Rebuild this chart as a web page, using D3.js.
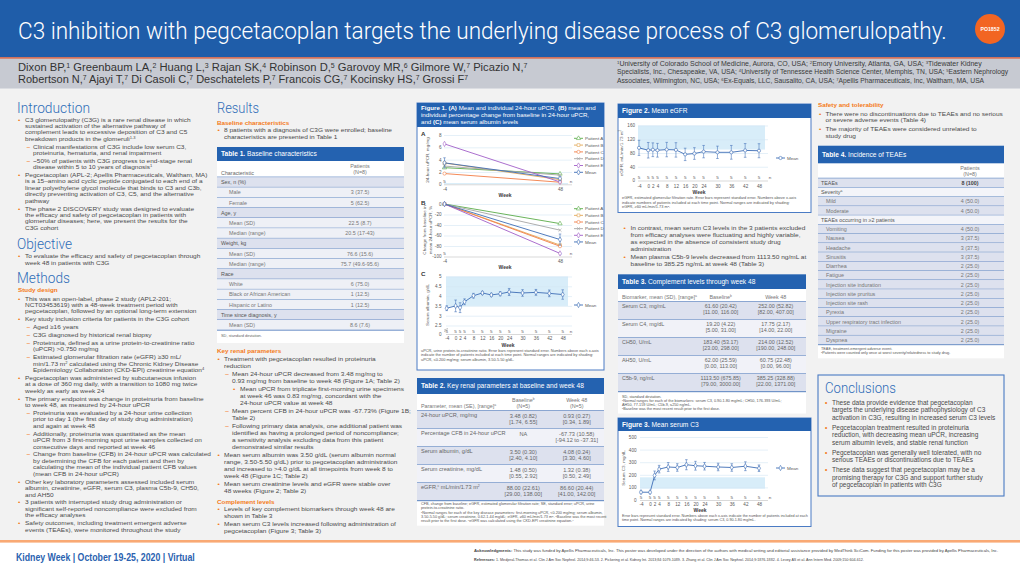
<!DOCTYPE html>
<html><head><meta charset="utf-8">
<script src="https://cdn.jsdelivr.net/npm/d3@7"></script>
<style>html,body{margin:0;padding:0;background:#fff;}svg{display:block;}</style>
</head><body>
<svg id="poster" width="1020" height="573" viewBox="0 0 1020 573"></svg>
<script>
// ================= DATA =================
const posterTitle = "C3 inhibition with pegcetacoplan targets the underlying disease process of C3 glomerulopathy.";
const posterId = "PO1852";
const authorLines = [
 "Dixon BP,{1} Greenbaum LA,{2} Huang L,{3} Rajan SK,{4} Robinson D,{5} Garovoy MR,{6} Gilmore W,{7} Picazio N,{7}",
 "Robertson N,{7} Ajayi T,{7} Di Casoli C,{7} Deschatelets P,{7} Francois CG,{7} Kocinsky HS,{7} Grossi F{7}"
];
const affiliationLines = [
 "{1}University of Colorado School of Medicine, Aurora, CO, USA; {2}Emory University, Atlanta, GA, USA; {3}Tidewater Kidney",
 "Specialists, Inc., Chesapeake, VA, USA; {4}University of Tennessee Health Science Center, Memphis, TN, USA; {5}Eastern Nephrology",
 "Associates, Wilmington, NC, USA; {6}Ex-Equals, LLC, Sausalito, CA, USA; {7}Apellis Pharmaceuticals, Inc, Waltham, MA, USA"
];
const introItems = [
 {l:0,t:["C3 glomerulopathy (C3G) is a rare renal disease in which","sustained activation of the alternative pathway of","complement leads to excessive deposition of C3 and C5","breakdown products in the glomeruli{1-3}"]},
 {l:1,t:["Clinical manifestations of C3G include low serum C3,","proteinuria, hematuria, and renal impairment"]},
 {l:1,t:["~50% of patients with C3G progress to end-stage renal","disease within 5 to 10 years of diagnosis{1}"]},
 {l:0,t:["Pegcetacoplan (APL-2; Apellis Pharmaceuticals, Waltham, MA)","is a 15–amino acid cyclic peptide conjugated to each end of a","linear polyethylene glycol molecule that binds to C3 and C3b,","directly preventing activation of C3, C5, and the alternative","pathway"]},
 {l:0,t:["The phase 2 DISCOVERY study was designed to evaluate","the efficacy and safety of pegcetacoplan in patients with","glomerular diseases; here, we present the results for the","C3G cohort"]}
];
const objectiveItems = [{l:0,t:["To evaluate the efficacy and safety of pegcetacoplan through","week 48 in patients with C3G"]}];
const methodsItems = [
 {l:0,t:["This was an open-label, phase 2 study (APL2-201;","NCT03453619) with a 48-week treatment period with","pegcetacoplan, followed by an optional long-term extension"]},
 {l:0,t:["Key study inclusion criteria for patients in the C3G cohort"]},
 {l:1,t:["Aged ≥16 years"]},
 {l:1,t:["C3G diagnosed by historical renal biopsy"]},
 {l:1,t:["Proteinuria, defined as a urine protein-to-creatinine ratio","(uPCR) >0.750 mg/mg"]},
 {l:1,t:["Estimated glomerular filtration rate (eGFR) ≥30 mL/","min/1.73 m{2} calculated using the Chronic Kidney Disease","Epidemiology Collaboration (CKD-EPI) creatinine equation{4}"]},
 {l:0,t:["Pegcetacoplan was administered by subcutaneous infusion","at a dose of 360 mg daily, with a transition to 1080 mg twice","weekly as early as week 24"]},
 {l:0,t:["The primary endpoint was change in proteinuria from baseline","to week 48, as measured by 24-hour uPCR"]},
 {l:1,t:["Proteinuria was evaluated by a 24-hour urine collection","prior to day 1 (the first day of study drug administration)","and again at week 48"]},
 {l:1,t:["Additionally, proteinuria was quantitated as the mean","uPCR from 3 first-morning spot urine samples collected on","consecutive days and reported at week 46"]},
 {l:1,t:["Change from baseline (CFB) in 24-hour uPCR was calculated","by determining the CFB for each patient and then by","calculating the mean of the individual patient CFB values","(mean CFB in 24-hour uPCR)"]},
 {l:0,t:["Other key laboratory parameters assessed included serum","albumin, creatinine, eGFR, serum C3, plasma C5b-9, CH50,","and AH50"]},
 {l:0,t:["3 patients with interrupted study drug administration or","significant self-reported noncompliance were excluded from","the efficacy analyses"]},
 {l:0,t:["Safety outcomes, including treatment emergent adverse","events (TEAEs), were monitored throughout the study"]}
];
const baselineItems = [{l:0,t:["8 patients with a diagnosis of C3G were enrolled; baseline","characteristics are presented in Table 1"]}];
const renalItems = [
 {l:0,t:["Treatment with pegcetacoplan resulted in proteinuria","reduction"]},
 {l:1,t:["Mean 24-hour uPCR decreased from 3.48 mg/mg to","0.93 mg/mg from baseline to week 48 (Figure 1A; Table 2)"]},
 {l:2,t:["Mean uPCR from triplicate first-morning urine specimens","at week 46 was 0.83 mg/mg, concordant with the","24-hour uPCR value at week 48"]},
 {l:1,t:["Mean percent CFB in 24-hour uPCR was -67.73% (Figure 1B;","Table 2)"]},
 {l:1,t:["Following primary data analysis, one additional patient was","identified as having a prolonged period of noncompliance;","a sensitivity analysis excluding data from this patient","demonstrated similar results"]},
 {l:0,t:["Mean serum albumin was 3.50 g/dL (serum albumin normal","range, 3.50-5.50 g/dL) prior to pegcetacoplan administration","and increased to >4.0 g/dL at all timepoints from week 8 to","week 48 (Figure 1C; Table 2)"]},
 {l:0,t:["Mean serum creatinine levels and eGFR were stable over","48 weeks (Figure 2; Table 2)"]}
];
const complementItems = [
 {l:0,t:["Levels of key complement biomarkers through week 48 are","shown in Table 3"]},
 {l:0,t:["Mean serum C3 levels increased following administration of","pegcetacoplan (Figure 3; Table 3)"]}
];
const col4Items = [
 {l:0,t:["In contrast, mean serum C3 levels in the 3 patients excluded","from efficacy analyses were fluctuating and highly variable,","as expected in the absence of consistent study drug","administration"]},
 {l:0,t:["Mean plasma C5b-9 levels decreased from 1113.50 ng/mL at","baseline to 385.25 ng/mL at week 48 (Table 3)"]}
];
const safetyItems = [
 {l:0,t:["There were no discontinuations due to TEAEs and no serious","or severe adverse events (Table 4)"]},
 {l:0,t:["The majority of TEAEs were considered unrelated to","study drug"]}
];
const conclusionItems = [
 {l:0,t:["These data provide evidence that pegcetacoplan","targets the underlying disease pathophysiology of C3","activation in C3G, resulting in increased serum C3 levels"]},
 {l:0,t:["Pegcetacoplan treatment resulted in proteinuria","reduction, with decreasing mean uPCR, increasing","serum albumin levels, and stable renal function"]},
 {l:0,t:["Pegcetacoplan was generally well tolerated, with no","serious TEAEs or discontinuations due to TEAEs"]},
 {l:0,t:["These data suggest that pegcetacoplan may be a","promising therapy for C3G and support further study","of pegcetacoplan in patients with C3G"]}
];

// Table 1
const table1Labels = ["Sex, n (%)","Male","Female","Age, y","Mean (SD)","Median (range)","Weight, kg","Mean (SD)","Median (range)","Race","White","Black or African American","Hispanic or Latino","Time since diagnosis, y","Mean (SD)"];
const table1Values = ["","3 (37.5)","5 (62.5)","","22.5 (8.7)","20.5 (17-43)","","76.6 (15.6)","75.7 (49.6-95.6)","","6 (75.0)","1 (12.5)","1 (12.5)","","8.6 (7.6)"];
// Table 2
const table2Params = ["24-hour uPCR, mg/mg","Percentage CFB in 24-hour uPCR","Serum albumin, g/dL","Serum creatinine, mg/dL","eGFR,{c} mL/min/1.73 m{2}"];
const table2Baseline = ["3.48 (0.82)","NA","3.50 (0.30)","1.48 (0.50)","88.00 (22.61)"];
const table2BaselineRange = ["[1.74, 6.55]","","[2.40, 4.10]","[0.55, 2.92]","[29.00, 138.00]"];
const table2Week48 = ["0.93 (0.27)","-67.73 (10.58)","4.08 (0.24)","1.32 (0.38)","86.60 (20.44)"];
const table2Week48Range = ["[0.34, 1.89]","[-94.12 to -37.31]","[3.30, 4.60]","[0.50, 2.49]","[41.00, 142.00]"];
const table2Notes = [
 "CFB, change from baseline; eGFR, estimated glomerular filtration rate; SE, standard error; uPCR, urine",
 "protein-to-creatinine ratio.",
 "{a}Normal ranges for each of the key disease parameters: first-morning uPCR, <0.200 mg/mg; serum albumin,",
 "3.50-5.50 g/dL; serum creatinine, 0.62-1.44 mg/dL; eGFR, ≥60 mL/min/1.73 m{2}. {b}Baseline was the most recent",
 "result prior to the first dose. {c}eGFR was calculated using the CKD-EPI creatinine equation.{4}"
];
// Table 3
const table3Markers = ["Serum C3, mg/mL","Serum C4, mg/dL","CH50, U/mL","AH50, U/mL","C5b-9, ng/mL"];
const table3Baseline = ["61.60 (20.42)","19.20 (4.22)","183.40 (53.17)","62.00 (25.59)","1113.50 (675.85)"];
const table3BaselineRange = ["[11.00, 116.00]","[5.00, 31.00]","[23.00, 298.00]","[0.00, 113.00]","[79.00, 3000.00]"];
const table3Week48 = ["252.00 (52.82)","17.75 (2.17)","214.00 (12.52)","60.75 (22.48)","385.25 (328.88)"];
const table3Week48Range = ["[82.00, 407.00]","[14.00, 22.00]","[190.00, 248.00]","[0.00, 96.00]","[22.00, 1371.00]"];
const table3Notes = [
 "SD, standard deviation.",
 "{a}Normal ranges for each of the biomarkers: serum C3, 0.90-1.80 mg/mL; CH50, 176-393 U/mL;",
 "AH50, 77-159 U/mL; C5b-9, ≤250 ng/mL.",
 "{b}Baseline was the most recent result prior to the first dose."
];
// Table 4
const table4Labels = ["TEAEs","Severity{a}","Mild","Moderate","TEAEs occurring in ≥2 patients","Vomiting","Nausea","Headache","Sinusitis","Diarrhea","Fatigue","Injection site induration","Injection site pruritus","Injection site rash","Pyrexia","Upper respiratory tract infection","Migraine","Dyspnea"];
const table4Values = ["8 (100)","","4 (50.0)","4 (50.0)","","4 (50.0)","3 (37.5)","3 (37.5)","3 (37.5)","2 (25.0)","2 (25.0)","2 (25.0)","2 (25.0)","2 (25.0)","2 (25.0)","2 (25.0)","2 (25.0)","2 (25.0)"];
const table4Level = [0,0,1,1,0,1,1,1,1,1,1,1,1,1,1,1,1,1];

// Figure 1 A/B
const fig1Weeks = [-4, 48];
const fig1Names = ["Patient A","Patient B","Patient C","Patient D","Patient E","Mean"];
const fig1AValues = [[2.70,1.69],[3.45,0.75],[1.74,0.34],[2.96,1.485],[6.55,0.385],[3.48,0.93]];
const fig1ASE = [0.82, 0.27];
const fig1BValues = [[0,-37.31],[0,-78.26],[0,-80.46],[0,-49.83],[0,-94.12],[0,-67.73]];
const fig1BSE = [0, 10.58];
const fig1N = [5, 5];
// Visits for Figures 1C, 2, 3
const visitWeeks = [-4,0,2,4,8,12,16,20,24,30,36,42,48];
const visitN = [5,5,5,5,5,5,5,5,5,5,5,5,5];
const albuminMean = [3.38,3.50,3.41,3.71,4.02,4.16,4.06,4.12,4.21,4.16,4.19,4.14,4.08];
const albuminSE = [0.12,0.30,0.25,0.15,0.12,0.08,0.08,0.10,0.18,0.17,0.15,0.17,0.24];
const egfrMean = [95.0,88.0,89.5,88.0,90.0,89.0,76.0,78.5,84.0,82.0,82.0,87.5,86.6];
const egfrSE = [22,22.6,20,20,21,21,18,17,18,18,20,20,20.4];
const c3Mean = [62,61.6,195,245,262,258,280,272,268,262,258,268,252];
const c3SE = [10,9,35,30,35,30,40,35,30,30,30,35,26];
// tick values
const fig1AYTicks = [0,2,4,6,8];
const fig1BYTicks = [-100,-80,-60,-40,-20,0];
const fig1CYTicks = [0,2.5,3,3.5,4,4.5,5];
const fig2YTicks = [0,40,80,120,160];
const fig3YTicks = [0,100,200,300,400,500];

// ================= DRAWING =================
const svg = d3.select('#poster');
const FONT = "'Liberation Sans',Arial,'DejaVu Sans',sans-serif";
const HFONT = "Roboto,'Liberation Sans',sans-serif";
const C = {blue:'#1f5da9', tblue:'#2462b0', head:'#2f6db8', orange:'#f47b20', orange2:'#f58a45',
  text:'#4a4a4a', axis:'#595959', shadeA:'#dde1ee', shadeB:'#eef0f6', rule:'#2f63b0',
  grid:'#d4e6f4', band:'#d8edf9', frame:'#4a7bc4'};

const probe = svg.append('text').attr('font-size',6.3).style('font-family',FONT)
  .text('The primary endpoint was change in proteinuria from baseline');
const SX = Math.min(1.1, 179 / probe.node().getComputedTextLength());
probe.remove();

function rich(t, s){
  s.split(/(\{[^}]*\}|\*[^*]*\*)/).forEach(p=>{
    if(!p) return;
    if(p[0]==='{') t.append('tspan').attr('baseline-shift','super').attr('font-size','62%').text(p.slice(1,-1));
    else if(p[0]==='*') t.append('tspan').attr('font-weight','bold').text(p.slice(1,-1));
    else t.append('tspan').text(p);
  });
  return t;
}
function txt(parent, x, y, s, o={}){
  const t = parent.append('text').attr('font-size', o.size||6.3).attr('fill', o.fill||C.text)
    .style('font-family', o.family||FONT);
  if(o.weight) t.attr('font-weight', o.weight);
  if(o.anchor) t.attr('text-anchor', o.anchor);
  rich(t, s);
  let sx = o.sx ?? SX;
  if(o.len) sx = o.len / t.node().getComputedTextLength();
  t.attr('transform', `translate(${x},${y})${o.rot?` rotate(${o.rot})`:''} scale(${sx},1)`);
  return t;
}
function bullets(items, cfg){
  let y = cfg.y;
  const size = cfg.size||6.1, sx = SX*6.3/size*(cfg.w||1);
  items.forEach((it,k)=>{
    if(k>0) y += cfg.lh + cfg.gap;
    const [mx,tx] = cfg.lv[it.l];
    txt(svg, mx, y, it.l===1?'–':'•', {size, sx:it.l===1?1.15:sx, fill: it.l===1?C.orange2:C.orange, weight:'bold'});
    it.t.forEach((line,i)=>{ if(i>0) y += cfg.lh; txt(svg, tx, y, line, {size, sx}); });
  });
  return y;
}
const heading = (x,y,s,len)=> txt(svg,x,y,s,{size:14,fill:C.head,family:HFONT,weight:300,len});
const subhead = (x,y,s)=> txt(svg,x,y,s,{size:6.1,fill:C.orange,weight:'bold'});

// ---- backgrounds / header ----
svg.append('rect').attr('width',1020).attr('height',573).attr('fill','#fff');
svg.append('rect').attr('y',88.6).attr('width',1020).attr('height',451.4).attr('fill','#f2f2f2');
svg.append('rect').attr('width',1020).attr('height',57.2).attr('fill',C.blue);
svg.append('rect').attr('y',57.2).attr('width',1020).attr('height',1.6).attr('fill','#d0573b');
svg.append('rect').attr('y',58.8).attr('width',1020).attr('height',29.8).attr('fill','#c7cad2');
svg.append('rect').attr('y',540).attr('width',1020).attr('height',2.6).attr('fill','#f9a974');
txt(svg,18,38.5,posterTitle,{size:24,fill:'#fff',len:929,family:HFONT,weight:300});
svg.append('circle').attr('cx',990).attr('cy',29).attr('r',15).attr('fill','#f26522');
txt(svg,990,30.8,posterId,{size:5.2,fill:'#fff',weight:'bold',anchor:'middle',sx:1});
authorLines.forEach((s,i)=> txt(svg,18,[70.5,83.2][i],s,{size:11,fill:'#333',len:[510,450][i]}));
affiliationLines.forEach((s,i)=> txt(svg,617,[65.5,74,82.5][i],s,{size:6.4,fill:'#3a3a3a',len:[365,391,367][i]}));

// ---- column 1 ----
heading(17,112.6,'Introduction',73);
bullets(introItems,{y:121.5,lh:6.45,gap:1.3,size:5.75,lv:[[18,25],[26.5,33],[33,40]]});
heading(17,249.4,'Objective',55);
bullets(objectiveItems,{y:258.2,lh:6.45,gap:1,size:5.75,lv:[[18,25]]});
heading(17,283,'Methods',53);
subhead(18,292.2,'Study design');
bullets(methodsItems,{y:300.5,lh:6.45,gap:1.4,size:5.75,lv:[[18,25],[26.5,33],[33,40]]});

// ---- column 2 ----
heading(217,112.6,'Results',42);
subhead(217,124.5,'Baseline characteristics');
bullets(baselineItems,{y:131.9,lh:7,gap:1,lv:[[217.5,224]]});

function tableFrame(x, top, w, headH, bottom, title){
  svg.append('rect').attr('x',x).attr('y',top).attr('width',w).attr('height',bottom-top).attr('fill','#fff');
  svg.append('rect').attr('x',x).attr('y',top).attr('width',w).attr('height',headH).attr('fill',C.tblue);
  txt(svg, x+4, top+headH/2+2.3, title, {size:6.4, fill:'#fff'});
}
function hrule(x1,x2,y,w){ svg.append('line').attr('x1',x1).attr('x2',x2).attr('y1',y).attr('y2',y).attr('stroke',C.rule).attr('stroke-width',w||0.7); }

// Table 1
tableFrame(217,147,187,14,343,'*Table 1.* Baseline characteristics');
txt(svg,360,167.6,'Patients',{size:5.2,fill:'#777',anchor:'middle'});
txt(svg,360,174,'(N=8)',{size:5.2,fill:'#777',anchor:'middle'});
txt(svg,221,174.6,'Characteristic',{size:5.2,fill:'#666'});
hrule(217,404,177.2,0.9);
const t1y = d3.scaleBand().domain(d3.range(table1Labels.length)).range([177.2,330.2]);
table1Labels.forEach((lab,i)=>{
  const cat = table1Values[i]==='', y0=t1y(i), h=t1y.bandwidth();
  svg.append('rect').attr('x',217).attr('y',y0).attr('width',187).attr('height',h).attr('fill',cat?C.shadeA:C.shadeB);
  hrule(217,404,y0+h,0.7);
  txt(svg, cat?221:229, y0+h/2+1.9, lab, {size:5.2, fill:cat?'#555':'#777'});
  if(!cat) txt(svg, 360, y0+h/2+1.9, table1Values[i], {size:5.2, fill:'#777', anchor:'middle'});
});
txt(svg,221,337,'SD, standard deviation.',{size:3.8,fill:'#666'});

subhead(217,353.2,'Key renal parameters');
bullets(renalItems,{y:361.2,lh:6.9,gap:1.2,lv:[[217.5,224],[225,232],[233,240]]});
subhead(217,503.5,'Complement levels');
bullets(complementItems,{y:510.7,lh:6.9,gap:1.2,lv:[[217.5,224]]});

// ---- chart helper ----
function chart(cfg){
  const g = svg.append('g');
  const x = d3.scaleLinear().domain([-4,48]).range(cfg.xr);
  const y = d3.scaleLinear().domain(cfg.yd).range(cfg.yr);
  const [p0,p1] = cfg.px;
  const yMin = cfg.yd[0], yMax = cfg.yd[cfg.yd.length-1];
  if(cfg.band){
    const t = y(Math.min(cfg.band[1],yMax)), b = y(Math.max(cfg.band[0],yMin));
    g.append('rect').attr('x',p0).attr('y',t).attr('width',cfg.bandW).attr('height',b-t).attr('fill',C.band);
  }
  g.append('g').attr('transform',`translate(${p0},0)`)
    .call(d3.axisRight(y).tickValues(cfg.yTicks).tickSize(p1-p0).tickFormat(''))
    .call(a=>{a.select('.domain').remove(); a.selectAll('.tick line').attr('stroke',d=>d===yMin?'#bfbfbf':C.grid).attr('stroke-width',0.6);});
  g.append('g').attr('transform',`translate(${cfg.yLabX},0)`)
    .call(d3.axisLeft(y).tickValues(cfg.yTicks).tickSize(0).tickPadding(0).tickFormat(d=>String(d)))
    .call(a=>{a.select('.domain').remove(); a.selectAll('text').attr('font-size',4.6).attr('fill',C.axis).style('font-family',FONT);});
  g.append('g').attr('transform',`translate(0,${cfg.xLabB-3.27})`)
    .call(d3.axisBottom(x).tickValues(cfg.xTicks).tickSize(0).tickPadding(0).tickFormat(d=>String(d)))
    .call(a=>{a.select('.domain').remove(); a.selectAll('text').attr('font-size',4.6).attr('fill',C.axis).style('font-family',FONT);});
  cfg.xTicks.forEach((w,i)=> txt(g, x(w), cfg.nY, String(cfg.n[i]), {size:4.4, fill:C.axis, anchor:'middle'}));
  txt(g, cfg.nX, cfg.nY, 'n', {size:4.4, fill:C.axis, anchor:'middle'});
  txt(g, cfg.weekX, cfg.weekB, 'Week', {size:4.8, fill:'#3a3a3a', weight:'bold', anchor:'middle'});
  cfg.yTitle.lines.forEach((s,i)=> txt(g, cfg.yTitle.x[i], cfg.yTitle.cy, s, {size:4.4, fill:C.axis, anchor:'middle', rot:-90}));
  if(cfg.brk){
    const ym = (y(cfg.yd[0])+y(cfg.yd[1]))/2;
    g.append('path').attr('d',`M${p0-2},${ym+0.3}l4,-1.6M${p0-2},${ym+1.8}l4,-1.6`).attr('stroke','#8c8c8c').attr('stroke-width',0.5).attr('fill','none');
  }
  const line = d3.line().x(d=>x(d[0])).y(d=>y(d[1]));
  const sym = s=> d3.symbol().type(s.sym).size(s.size||8)();
  cfg.series.forEach(s=>{
    const pts = cfg.xTicks.map((w,i)=>[w, s.v[i]]);
    if(s.se) pts.forEach((p,i)=>{
      if(!s.se[i]) return;
      const xx=x(p[0]), y1=y(p[1]-s.se[i]), y2=y(p[1]+s.se[i]);
      g.append('path').attr('d',`M${xx},${y1}V${y2}M${xx-1.3},${y1}h2.6M${xx-1.3},${y2}h2.6`)
        .attr('stroke',s.color).attr('stroke-width',0.55).attr('fill','none');
    });
    g.append('path').attr('d',line(pts)).attr('fill','none').attr('stroke',s.color).attr('stroke-width',0.9);
    pts.forEach(p=> g.append('path').attr('transform',`translate(${x(p[0])},${y(p[1])})`).attr('d',sym(s))
      .attr('fill',s.sym===d3.symbolX?'none':'#fff').attr('stroke',s.color).attr('stroke-width',0.6));
  });
  cfg.series.forEach((s,i)=>{
    const lx=cfg.leg.x, ly=cfg.leg.y+i*(cfg.leg.dy||0);
    g.append('line').attr('x1',lx).attr('x2',lx+9).attr('y1',ly).attr('y2',ly).attr('stroke',s.color).attr('stroke-width',0.9);
    g.append('path').attr('transform',`translate(${lx+4.5},${ly})`).attr('d',sym(s))
      .attr('fill',s.sym===d3.symbolX?'none':'#fff').attr('stroke',s.color).attr('stroke-width',0.6);
    txt(g, lx+11, ly+1.6, s.name, {size:4.4, fill:C.axis});
  });
  return g;
}
function figFrame(x, top, w, bottom, headH){
  svg.append('rect').attr('x',x).attr('y',top).attr('width',w).attr('height',bottom-top).attr('fill','#fff').attr('stroke',C.frame).attr('stroke-width',1);
  svg.append('rect').attr('x',x).attr('y',top).attr('width',w).attr('height',headH).attr('fill',C.tblue);
}

// ---- Figure 1 ----
const fig1Colors = ['#5aac48','#e3a857','#f27d45','#a5a5a5','#a15fc8','#3d6db5'];
const fig1Syms = [d3.symbolTriangle,d3.symbolSquare,d3.symbolCircle,d3.symbolX,d3.symbolDiamond,d3.symbolDiamond];
figFrame(417,103,187,370,24);
["*Figure 1.* *(A)* Mean and individual 24-hour uPCR, *(B)* mean and",
 "individual percentage change from baseline in 24-hour uPCR,",
 "and *(C)* mean serum albumin levels"].forEach((s,i)=> txt(svg,421,110.4+i*6.7,s,{size:5.95,fill:'#fff'}));
['A','B','C'].forEach((s,i)=> txt(svg,421,[135.5,205,276][i],s,{size:6,weight:'bold',fill:'#333'}));
chart({xr:[444.5,560],px:[444,572],yd:[0,8],yr:[184.3,135],yTicks:fig1AYTicks,yLabX:441.5,
  xTicks:fig1Weeks,xLabB:191,n:fig1N,nY:183,nX:571,weekX:505,weekB:196.6,band:[0,0.2],bandW:124,
  yTitle:{x:[429],cy:160,lines:['24-hour uPCR, mg/mg']},
  series:fig1Names.map((nm,i)=>({name:nm,color:fig1Colors[i],sym:fig1Syms[i],v:fig1AValues[i],se:i===5?fig1ASE:null})),
  leg:{x:574,y:138.3,dy:6.8}});
chart({xr:[444.5,560],px:[444,572],yd:[-100,0],yr:[256.5,204],yTicks:fig1BYTicks,yLabX:441.5,
  xTicks:fig1Weeks,xLabB:262.7,n:fig1N,nY:255.3,nX:571,weekX:505,weekB:268.6,
  yTitle:{x:[426,431.6],cy:230,lines:['Change from baseline in','mean 24-hour uPCR, %']},
  series:fig1Names.map((nm,i)=>({name:nm,color:fig1Colors[i],sym:fig1Syms[i],v:fig1BValues[i],se:i===5?fig1BSE:null})),
  leg:{x:574,y:208.7,dy:6.65}});
chart({xr:[446.7,562.7],px:[446,572],yd:[0,2.5,5],yr:[334,325.5,276.5],yTicks:fig1CYTicks,yLabX:441.5,
  xTicks:visitWeeks,xLabB:339.8,n:visitN,nY:332.6,nX:571,weekX:508,weekB:346.5,band:[3.5,5.5],bandW:122,brk:true,
  yTitle:{x:[429],cy:305,lines:['Serum albumin, g/dL']},
  series:[{name:'Mean',color:'#3d6db5',sym:d3.symbolDiamond,v:albuminMean,se:albuminSE}],
  leg:{x:574,y:305}});
["uPCR, urine protein-to-creatinine ratio. Error bars represent standard error. Numbers above each x-axis",
 "indicate the number of patients included at each time point. Normal ranges are indicated by shading:",
 "uPCR, ≤0.200 mg/mg; serum albumin, 3.50-5.50 g/dL."].forEach((s,i)=> txt(svg,421,351.5+i*4.7,s,{size:3.75,fill:'#555'}));

// ---- Table 2 ----
tableFrame(417,378,187,16,525.7,'*Table 2.* Key renal parameters at baseline and week 48');
txt(svg,421,407.8,'Parameter, mean (SE), [range]{a}',{size:5.2,fill:'#777'});
txt(svg,523.3,401.6,'Baseline{b}',{size:5.2,fill:'#777',anchor:'middle'});
txt(svg,523.3,407.6,'(N=5)',{size:5.2,fill:'#777',anchor:'middle'});
txt(svg,576.7,401.6,'Week 48',{size:5.2,fill:'#777',anchor:'middle'});
txt(svg,576.7,407.6,'(N=5)',{size:5.2,fill:'#777',anchor:'middle'});
hrule(417,604,410.7,0.9);
const t2y = d3.scaleBand().domain(d3.range(table2Params.length)).range([410.7,500.7]);
table2Params.forEach((p,i)=>{
  const y0=t2y(i), h=t2y.bandwidth();
  svg.append('rect').attr('x',417).attr('y',y0).attr('width',187).attr('height',h).attr('fill',i%2?'#f1f2f8':C.shadeA);
  hrule(417,604,y0+h,0.8);
  txt(svg,421,y0+6.6,p,{size:5.4,fill:'#666'});
  txt(svg,523.3,y0+7,table2Baseline[i],{size:5.4,fill:'#666',anchor:'middle'});
  if(table2BaselineRange[i]) txt(svg,523.3,y0+13.4,table2BaselineRange[i],{size:5.4,fill:'#666',anchor:'middle'});
  txt(svg,576.7,y0+7,table2Week48[i],{size:5.4,fill:'#666',anchor:'middle'});
  if(table2Week48Range[i]) txt(svg,576.7,y0+13.4,table2Week48Range[i],{size:5.4,fill:'#666',anchor:'middle'});
});
table2Notes.forEach((s,i)=> txt(svg,421,505.4+i*4.05,s,{size:3.5,fill:'#555',sx:SX*1.05}));

// ---- Figure 2 ----
figFrame(618,104,193,212.5,14);
txt(svg,622,113.4,'*Figure 2.* Mean eGFR',{size:6.4,fill:'#fff'});
chart({xr:[639,759],px:[638,768],yd:[0,160],yr:[180.5,125.5],yTicks:fig2YTicks,yLabX:635,
  xTicks:visitWeeks,xLabB:187.6,n:visitN,nY:179.3,nX:770,weekX:699,weekB:193.6,band:[90,160],bandW:127,
  yTitle:{x:[623],cy:153,lines:['eGFR, mL/min/1.73 m{2}']},
  series:[{name:'Mean',color:'#3d6db5',sym:d3.symbolCircle,v:egfrMean,se:egfrSE}],
  leg:{x:776,y:158}});
["eGFR, estimated glomerular filtration rate. Error bars represent standard error. Numbers above x-axis",
 "indicate numbers of patients included at each time point. Normal ranges are indicated by shading:",
 "eGFR, ≥60 mL/min/1.73 m{2}."].forEach((s,i)=> txt(svg,622,199.4+i*4.5,s,{size:3.75,fill:'#555'}));
bullets(col4Items,{y:230.2,lh:7,gap:1,lv:[[623.5,630.5]]});

// ---- Table 3 ----
tableFrame(618,274.3,188,14.7,413.5,'*Table 3.* Complement levels through week 48');
txt(svg,622,299.3,'Biomarker, mean (SD), [range]{a}',{size:5.2,fill:'#777'});
txt(svg,720.7,299.3,'Baseline{b}',{size:5.2,fill:'#777',anchor:'middle'});
txt(svg,775.7,299.3,'Week 48',{size:5.2,fill:'#777',anchor:'middle'});
hrule(618,806,301.7,0.9);
const t3y = d3.scaleBand().domain(d3.range(table3Markers.length)).range([301.7,391.7]);
table3Markers.forEach((p,i)=>{
  const y0=t3y(i), h=t3y.bandwidth();
  svg.append('rect').attr('x',618).attr('y',y0).attr('width',188).attr('height',h).attr('fill',i%2?'#f1f2f8':C.shadeA);
  hrule(618,806,y0+h,0.8);
  txt(svg,622,y0+5.8,p,{size:5.2,fill:'#666'});
  txt(svg,720.7,y0+5.8,table3Baseline[i],{size:5.2,fill:'#666',anchor:'middle'});
  txt(svg,720.7,y0+11.8,table3BaselineRange[i],{size:5.2,fill:'#666',anchor:'middle'});
  txt(svg,775.7,y0+5.8,table3Week48[i],{size:5.2,fill:'#666',anchor:'middle'});
  txt(svg,775.7,y0+11.8,table3Week48Range[i],{size:5.2,fill:'#666',anchor:'middle'});
});
table3Notes.forEach((s,i)=> txt(svg,622,397.5+i*4.05,s,{size:3.5,fill:'#555',sx:SX*1.05}));

// ---- Figure 3 ----
figFrame(618,418,193,526.5,13);
txt(svg,622,427,'*Figure 3.* Mean serum C3',{size:6.4,fill:'#fff'});
chart({xr:[641,759],px:[640,768],yd:[0,500],yr:[500,437],yTicks:fig3YTicks,yLabX:636.5,
  xTicks:visitWeeks,xLabB:506.3,n:visitN,nY:498.8,nX:770,weekX:700,weekB:511.6,band:[90,180],bandW:125,
  yTitle:{x:[625],cy:468,lines:['Serum C3, mg/dL']},
  series:[{name:'Mean',color:'#3d6db5',sym:d3.symbolDiamond,v:c3Mean,se:c3SE}],
  leg:{x:776,y:468}});
["Error bars represent standard error. Numbers above each x-axis indicate the number of patients included at each",
 "time point. Normal ranges are indicated by shading: serum C3, 0.90-1.80 mg/mL."].forEach((s,i)=> txt(svg,622,516.8+i*4.5,s,{size:3.6,fill:'#555'}));

// ---- column 5 ----
subhead(818,107.2,'Safety and tolerability');
bullets(safetyItems,{y:115.5,lh:6.7,gap:2,size:6.0,lv:[[819,825.5]]});
tableFrame(818,145.7,186,17.6,358.3,'*Table 4.* Incidence of TEAEs');
txt(svg,970,169.5,'Patients',{size:5.2,fill:'#777',anchor:'middle'});
txt(svg,970,176,'(N=8)',{size:5.2,fill:'#777',anchor:'middle'});
hrule(818,1004,178.3,0.9);
const t4y = d3.scaleBand().domain(d3.range(table4Labels.length)).range([178.4,344.7]);
table4Labels.forEach((lab,i)=>{
  const y0=t4y(i), h=t4y.bandwidth(), cat = table4Values[i]==='';
  svg.append('rect').attr('x',818).attr('y',y0).attr('width',186).attr('height',h).attr('fill',cat?'#f3f4f9':C.shadeA);
  hrule(818,1004,y0+h,0.7);
  txt(svg, table4Level[i]?826:821, y0+h/2+1.9, lab, {size:5.2, fill:table4Level[i]?'#777':'#555'});
  if(!cat) txt(svg,970,y0+h/2+1.9,table4Values[i],{size:5.2,fill:i===0?'#444':'#777',anchor:'middle',weight:i===0?'bold':null});
});
["TEAE, treatment-emergent adverse event.",
 "{a}Patients were counted only once at worst severity/relatedness to study drug."].forEach((s,i)=> txt(svg,821,349.6+i*4.05,s,{size:3.5,fill:'#555',sx:SX*1.05}));

// Conclusions
svg.append('rect').attr('x',818).attr('y',375).attr('width',186).attr('height',121).attr('fill','none').attr('stroke',C.frame).attr('stroke-width',1.1);
heading(825,393.2,'Conclusions',71);
bullets(conclusionItems,{y:404.9,lh:7.5,gap:2.4,size:6.5,lv:[[825,832]]});

// ---- footer ----
txt(svg,16,561,'Kidney Week | October 19-25, 2020 | Virtual',{size:10.5,fill:'#2a62b0',weight:'bold',len:179});
txt(svg,474,552,'*Acknowledgments:* This study was funded by Apellis Pharmaceuticals, Inc. This poster was developed under the direction of the authors with medical writing and editorial assistance provided by MedThink SciCom. Funding for this poster was provided by Apellis Pharmaceuticals, Inc.',{size:4.3,fill:'#444',len:525});
txt(svg,474,560.5,'*References:* 1. Medjeral-Thomas et al. Clin J Am Soc Nephrol. 2014;9:46-53. 2. Pickering et al. Kidney Int. 2013;84:1079-1089. 3. Zhang et al. Clin J Am Soc Nephrol. 2014;9:1876-1882. 4. Levey AS et al. Ann Intern Med. 2009;150:604-612.',{size:4.3,fill:'#444',len:391});
</script>
</body></html>
